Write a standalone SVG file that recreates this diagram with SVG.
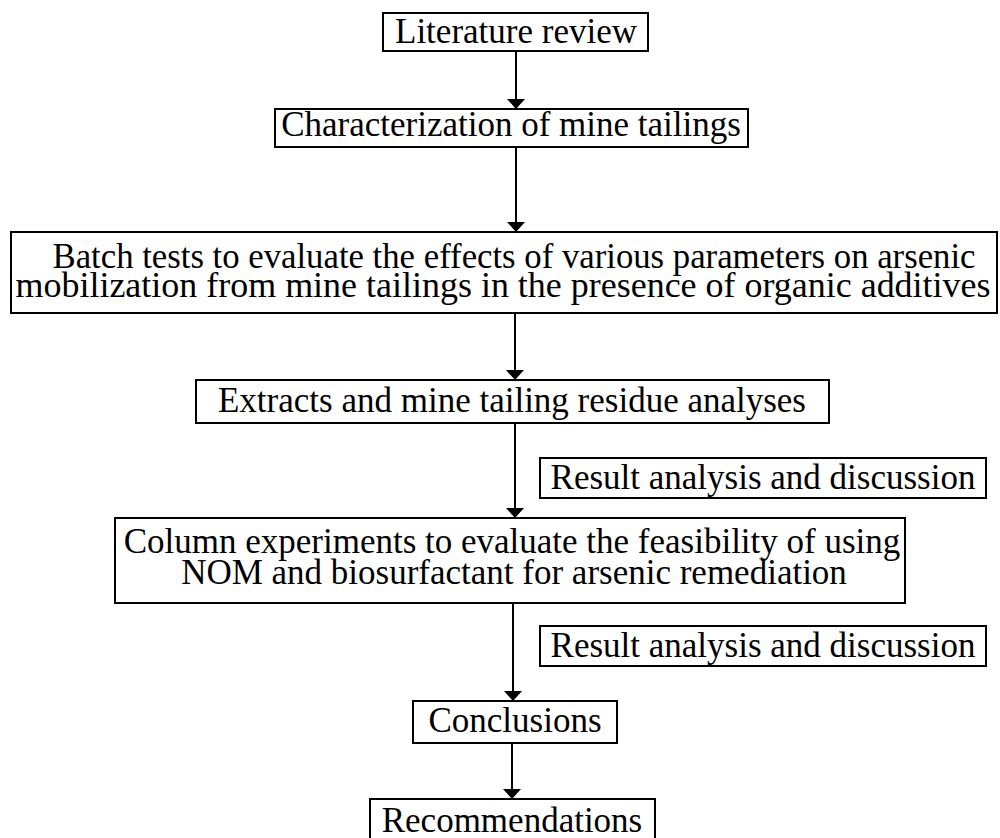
<svg xmlns="http://www.w3.org/2000/svg" width="1000" height="838" viewBox="0 0 1000 838">
<defs>
<style>
.box{fill:#fff;stroke:#000;stroke-width:2}
.t{font-family:"Liberation Serif","Times New Roman",serif;font-size:35px;fill:#000;text-anchor:middle}
.c{stroke:#000;stroke-width:2;fill:none;marker-end:url(#ah)}
</style>
<marker id="ah" viewBox="0 0 10 20" refX="10" refY="10" markerWidth="10" markerHeight="20" orient="auto" markerUnits="userSpaceOnUse">
<path d="M0,1 L10,10 L0,19 Z" fill="#000"/>
</marker>
</defs>
<rect width="1000" height="838" fill="#fff"/>
<g id="connectors">
<line class="c" x1="516" y1="51" x2="516" y2="109"/>
<line class="c" x1="516" y1="147" x2="516" y2="232"/>
<line class="c" x1="515" y1="313" x2="515" y2="380"/>
<line class="c" x1="515" y1="423" x2="515" y2="518"/>
<line class="c" x1="513" y1="603" x2="513" y2="701"/>
<line class="c" x1="512" y1="743" x2="512" y2="799"/>
</g>
<g id="n1"><rect class="box" x="383" y="13" width="265" height="38"/><text class="t" x="516" y="43">Literature review</text></g>
<g id="n2"><rect class="box" x="275" y="109" width="473" height="38"/><text class="t" x="511" y="136">Characterization of mine tailings</text></g>
<g id="n3"><rect class="box" x="11" y="232" width="986" height="81"/><text class="t" x="514" y="268" textLength="923" lengthAdjust="spacingAndGlyphs">Batch tests to evaluate the effects of various parameters on arsenic</text><text class="t" x="503" y="297" textLength="975" lengthAdjust="spacingAndGlyphs">mobilization from mine tailings in the presence of organic additives</text></g>
<g id="n4"><rect class="box" x="196" y="380" width="633" height="43"/><text class="t" x="512" y="412">Extracts and mine tailing residue analyses</text></g>
<g id="n5"><rect class="box" x="540" y="458" width="446" height="40"/><text class="t" x="763" y="489">Result analysis and discussion</text></g>
<g id="n6"><rect class="box" x="115" y="518" width="790" height="85"/><text class="t" x="512" y="553">Column experiments to evaluate the feasibility of using</text><text class="t" x="514" y="584">NOM and biosurfactant for arsenic remediation</text></g>
<g id="n7"><rect class="box" x="540" y="626" width="446" height="40"/><text class="t" x="763" y="657">Result analysis and discussion</text></g>
<g id="n8"><rect class="box" x="413" y="701" width="204" height="42"/><text class="t" x="515" y="732">Conclusions</text></g>
<g id="n9"><rect class="box" x="370" y="799" width="285" height="45"/><text class="t" x="512" y="832">Recommendations</text></g>
</svg>
